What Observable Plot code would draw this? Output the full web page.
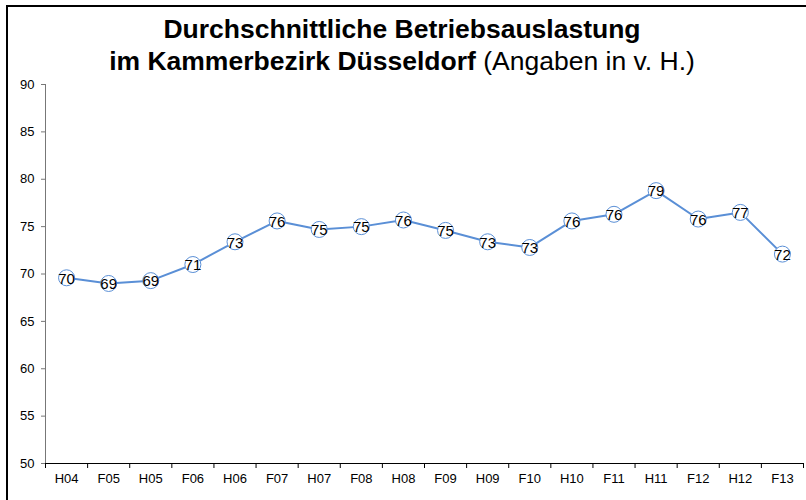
<!DOCTYPE html>
<html><head><meta charset="utf-8">
<script src="https://cdn.jsdelivr.net/npm/d3@7"></script>
<script src="https://cdn.jsdelivr.net/npm/@observablehq/plot@0.6"></script>
<style>
body{margin:0;background:#fff;}
#wrap{position:relative;width:806px;height:500px;overflow:hidden;font-family:Arial,"Liberation Sans",sans-serif;}
#frame{position:absolute;left:6px;top:5px;width:900px;height:600px;border-left:2px solid #000;border-top:2px solid #000;}
#title{position:absolute;left:0;width:804px;top:12.5px;text-align:center;font-size:26.5px;line-height:32.7px;color:#000;white-space:nowrap;}
#chart{position:absolute;left:0;top:0;}
</style></head>
<body>
<div id="wrap">
  <div id="frame"></div>
  <div id="chart"></div>
  <div id="title"><b>Durchschnittliche Betriebsauslastung</b><br><b>im Kammerbezirk Düsseldorf</b> (Angaben in v. H.)</div>
</div>
<script>
const periods = ["H04","F05","H05","F06","H06","F07","H07","F08","H08","F09","H09","F10","H10","F11","H11","F12","H12","F13"];
const values = [69.6,69.0,69.3,71.0,73.4,75.6,74.7,75.0,75.7,74.6,73.4,72.8,75.6,76.3,78.8,75.8,76.5,72.1];
const valueLabels = ["70","69","69","71","73","76","75","75","76","75","73","73","76","76","79","76","77","72"];
const yTicks = [50,55,60,65,70,75,80,85,90];

const data = periods.map((p, i) => ({i: i + 0.5, period: p, value: values[i], label: valueLabels[i]}));
const blue = "#5a8fd6";

const chart = Plot.plot({
  width: 806,
  height: 500,
  marginLeft: 45,
  marginRight: 3,
  marginTop: 84,
  marginBottom: 37,
  style: {fontFamily: "Arial, 'Liberation Sans', sans-serif", fontSize: "13px", background: "transparent", color: "#000"},
  x: {domain: [0, periods.length]},
  y: {domain: [50, 90]},
  marks: [
    Plot.ruleX([0], {y1: 50, y2: 90, stroke: "#777", strokeWidth: 1}),
    Plot.ruleY([50], {x1: 0, x2: periods.length, stroke: "#000", strokeWidth: 1}),
    Plot.axisY({ticks: yTicks, tickSize: 4, tickPadding: 7, stroke: "#777", strokeOpacity: 1, label: null, fontSize: 13}),
    Plot.axisX({ticks: d3.range(periods.length + 1), tickSize: 5, tickFormat: () => "", stroke: "#000", strokeOpacity: 1, label: null}),
    Plot.axisX({ticks: data.map(d => d.i), tickSize: 0, tickPadding: 10, tickFormat: d => periods[Math.floor(d)], label: null, fontSize: 13}),
    Plot.line(data, {x: "i", y: "value", stroke: blue, strokeWidth: 2}),
    Plot.dot(data, {x: "i", y: "value", r: 8, fill: "white", stroke: blue, strokeWidth: 1}),
    Plot.text(data, {x: "i", y: "value", text: "label", fontSize: 15, fill: "#000", dy: 1})
  ]
});
document.getElementById("chart").appendChild(chart);
</script>
</body></html>
